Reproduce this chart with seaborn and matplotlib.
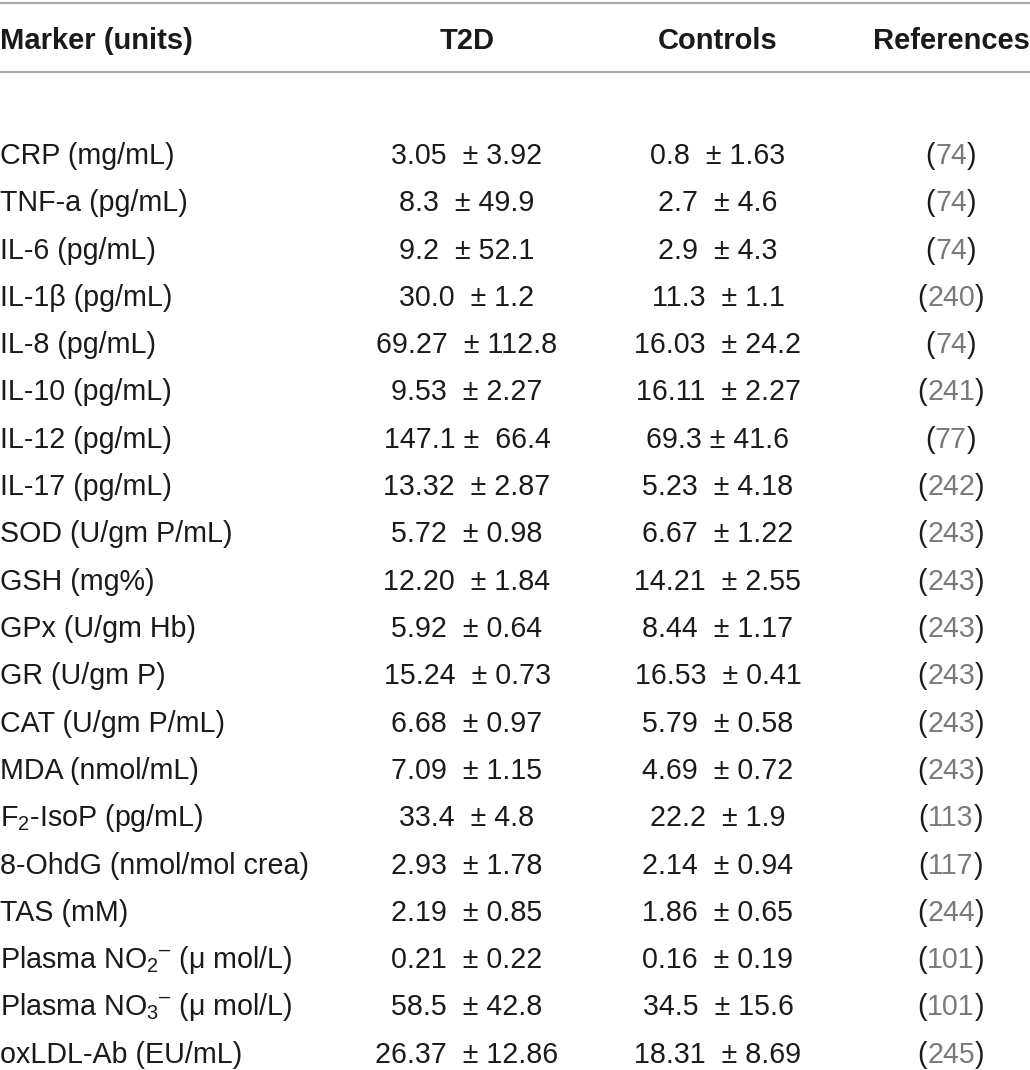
import matplotlib
matplotlib.use("Agg")
import matplotlib.pyplot as plt
import seaborn as sns

markers = [
    "CRP (mg/mL)", "TNF-a (pg/mL)", "IL-6 (pg/mL)", "IL-1\u03b2 (pg/mL)",
    "IL-8 (pg/mL)", "IL-10 (pg/mL)", "IL-12 (pg/mL)", "IL-17 (pg/mL)",
    "SOD (U/gm P/mL)", "GSH (mg%)", "GPx (U/gm Hb)", "GR (U/gm P)",
    "CAT (U/gm P/mL)", "MDA (nmol/mL)", r"F$_2$-IsoP (pg/mL)",
    "8-OhdG (nmol/mol crea)", "TAS (mM)",
    "Plasma NO$_2$$^{\u2013}$ ($\\mu$ mol/L)", "Plasma NO$_3$$^{\u2013}$ ($\\mu$ mol/L)",
    "oxLDL-Ab (EU/mL)",
]
t2d = [
    "3.05  \u00b1 3.92", "8.3  \u00b1 49.9", "9.2  \u00b1 52.1", "30.0  \u00b1 1.2",
    "69.27  \u00b1 112.8", "9.53  \u00b1 2.27", "147.1 \u00b1  66.4", "13.32  \u00b1 2.87",
    "5.72  \u00b1 0.98", "12.20  \u00b1 1.84", "5.92  \u00b1 0.64", "15.24  \u00b1 0.73",
    "6.68  \u00b1 0.97", "7.09  \u00b1 1.15", "33.4  \u00b1 4.8", "2.93  \u00b1 1.78",
    "2.19  \u00b1 0.85", "0.21  \u00b1 0.22", "58.5  \u00b1 42.8", "26.37  \u00b1 12.86",
]
controls = [
    "0.8  \u00b1 1.63", "2.7  \u00b1 4.6", "2.9  \u00b1 4.3", "11.3  \u00b1 1.1",
    "16.03  \u00b1 24.2", "16.11  \u00b1 2.27", "69.3 \u00b1 41.6", "5.23  \u00b1 4.18",
    "6.67  \u00b1 1.22", "14.21  \u00b1 2.55", "8.44  \u00b1 1.17", "16.53  \u00b1 0.41",
    "5.79  \u00b1 0.58", "4.69  \u00b1 0.72", "22.2  \u00b1 1.9", "2.14  \u00b1 0.94",
    "1.86  \u00b1 0.65", "0.16  \u00b1 0.19", "34.5  \u00b1 15.6", "18.31  \u00b1 8.69",
]
refs = ["74", "74", "74", "240", "74", "241", "77", "242", "243", "243",
        "243", "243", "243", "243", "113", "117", "244", "101", "101", "245"]
headers = ["Marker (units)", "T2D", "Controls", "References"]

sns.set_theme(style="white")
plt.rcParams["font.family"] = ["Liberation Sans", "DejaVu Sans"]
plt.rcParams["mathtext.fontset"] = "custom"
plt.rcParams["mathtext.rm"] = "Liberation Sans"
plt.rcParams["mathtext.it"] = "Liberation Sans:italic"
plt.rcParams["mathtext.default"] = "rm"

W, H = 1030, 1070
fig = plt.figure(figsize=(W / 100, H / 100), dpi=100)
ax = fig.add_axes([0, 0, 1, 1])
ax.set_xlim(0, W)
ax.set_ylim(H, 0)
ax.axis("off")

fs = 20.6
fs_head = 21
col_x = [0, 467, 718, 951]
header_y = 41
row0_y = 156
row_step = 47.3
line_c = "#a8a8a8"
ink = "#1a1a1a"

ax.axhline(3, color=line_c, lw=1.5)
ax.axhline(72, color=line_c, lw=1.5)

for j, h in enumerate(headers):
    ha = "left" if j == 0 else "center"
    ax.text(col_x[j], header_y, h, ha=ha, va="center", fontsize=fs_head,
            fontweight="bold", color=ink)

fig.canvas.draw()
renderer = fig.canvas.get_renderer()
inv = ax.transData.inverted()

for i in range(len(markers)):
    y = row0_y + i * row_step
    ax.text(col_x[0], y, markers[i], ha="left", va="center", fontsize=fs, color=ink)
    ax.text(col_x[1], y, t2d[i], ha="center", va="center", fontsize=fs, color=ink)
    ax.text(col_x[2], y, controls[i], ha="center", va="center", fontsize=fs, color=ink)
    # reference: black parentheses, grey number, centred as a whole
    probe = ax.text(col_x[3], y, "(" + refs[i] + ")", ha="center", va="center",
                    fontsize=fs, color="none")
    bb = probe.get_window_extent(renderer)
    probe.remove()
    x_left = inv.transform((bb.x0, 0))[0]
    t1 = ax.text(x_left, y, "(", ha="left", va="center", fontsize=fs, color=ink)
    t2 = ax.annotate(refs[i], xy=(1, 0.5), xycoords=t1, ha="left", va="center",
                     fontsize=fs, color="#7a7a7a")
    ax.annotate(")", xy=(1, 0.5), xycoords=t2, ha="left", va="center",
                fontsize=fs, color=ink)

fig.savefig("out.png", dpi=100)
